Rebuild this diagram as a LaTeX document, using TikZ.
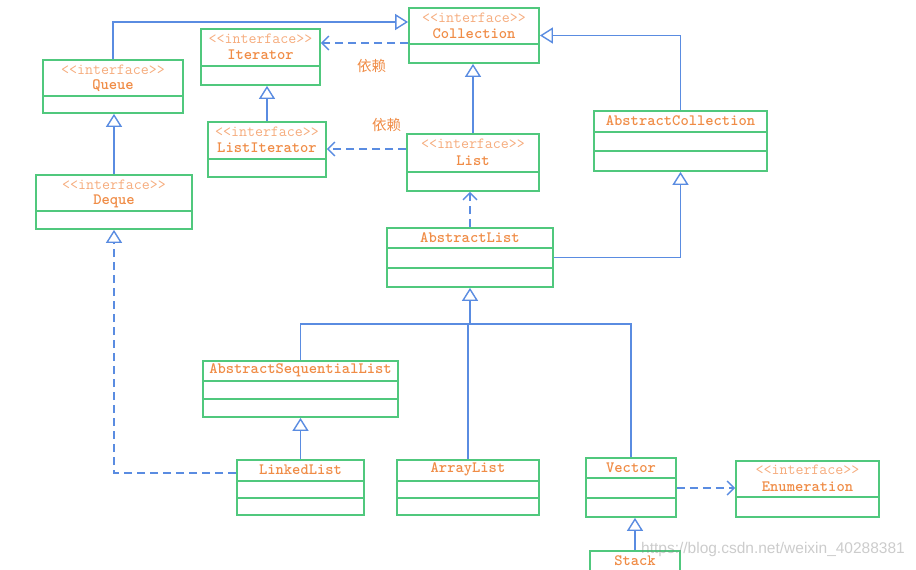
\documentclass[tikz,border=0pt]{standalone}
\usepackage{fontspec}
\newfontfamily\cjk{Noto Sans CJK SC}
\newfontfamily\wmfont{Liberation Sans}
\usetikzlibrary{arrows.meta}
\definecolor{boxgreen}{RGB}{80,200,125}
\definecolor{txtorange}{RGB}{240,140,70}
\definecolor{stereoorange}{RGB}{246,172,125}
\definecolor{lineblue}{RGB}{90,140,225}
\tikzset{
  cls/.style={draw=boxgreen, line width=1.8pt, rectangle, inner sep=0pt, fill=none},
  div/.style={draw=boxgreen, line width=1.8pt},
  stereo/.style={text=stereoorange, font=\fontsize{15.5}{16}\selectfont\ttfamily, inner sep=0pt},
  cname/.style={text=txtorange, font=\fontsize{15.8}{16}\selectfont\ttfamily\bfseries, inner sep=0pt},
  dlabel/.style={text=txtorange, font=\fontsize{14.5}{15}\selectfont\cjk, inner sep=0pt},
  conn/.style={draw=lineblue, line width=1.6pt},
  inh/.style={conn, -{Triangle[open, length=13pt, width=16pt, line width=1.4pt]}},
  dep/.style={conn, dash pattern=on 8pt off 5pt, -{Straight Barb[length=7pt, width=14pt, line width=1.4pt]}},
  real/.style={conn, dash pattern=on 8pt off 5pt, -{Triangle[open, length=13pt, width=16pt, line width=1.4pt]}},
}
\begin{document}
\begin{tikzpicture}[x=1pt, y=-1pt]
\useasboundingbox[fill=white] (0,0) rectangle (916,570);

% boxes
\node[cls, minimum width=130pt, minimum height=55pt] (coll) at (474,35.5) {};
\node[cls, minimum width=119pt, minimum height=56pt] (iter) at (260.5,57) {};
\node[cls, minimum width=140pt, minimum height=53pt] (queue) at (113,86.5) {};
\node[cls, minimum width=118pt, minimum height=55pt] (liter) at (267,149.5) {};
\node[cls, minimum width=132pt, minimum height=57pt] (list) at (473,162.5) {};
\node[cls, minimum width=156pt, minimum height=54pt] (deque) at (114,202) {};
\node[cls, minimum width=173pt, minimum height=60pt] (acoll) at (680.5,141) {};
\node[cls, minimum width=166pt, minimum height=59pt] (alist) at (470,257.5) {};
\node[cls, minimum width=195pt, minimum height=56pt] (asl) at (300.5,389) {};
\node[cls, minimum width=127pt, minimum height=55pt] (llist) at (300.5,487.5) {};
\node[cls, minimum width=142pt, minimum height=55pt] (alst) at (468,487.5) {};
\node[cls, minimum width=90pt, minimum height=59pt] (vec) at (631,487.5) {};
\node[cls, minimum width=143pt, minimum height=56pt] (enum) at (807.5,489) {};
\node[cls, minimum width=90pt, minimum height=49pt] (stack) at (635,575.5) {};

% dividers
\draw[div] (coll.west |- 0,44) -- (coll.east |- 0,44);
\draw[div] (iter.west |- 0,66) -- (iter.east |- 0,66);
\draw[div] (queue.west |- 0,96) -- (queue.east |- 0,96);
\draw[div] (liter.west |- 0,159) -- (liter.east |- 0,159);
\draw[div] (list.west |- 0,172) -- (list.east |- 0,172);
\draw[div] (deque.west |- 0,211) -- (deque.east |- 0,211);
\draw[div] (acoll.west |- 0,132) -- (acoll.east |- 0,132);
\draw[div] (acoll.west |- 0,151) -- (acoll.east |- 0,151);
\draw[div] (alist.west |- 0,248) -- (alist.east |- 0,248);
\draw[div] (alist.west |- 0,268) -- (alist.east |- 0,268);
\draw[div] (asl.west |- 0,381) -- (asl.east |- 0,381);
\draw[div] (asl.west |- 0,399) -- (asl.east |- 0,399);
\draw[div] (llist.west |- 0,481) -- (llist.east |- 0,481);
\draw[div] (llist.west |- 0,498) -- (llist.east |- 0,498);
\draw[div] (alst.west |- 0,481) -- (alst.east |- 0,481);
\draw[div] (alst.west |- 0,498) -- (alst.east |- 0,498);
\draw[div] (vec.west |- 0,478) -- (vec.east |- 0,478);
\draw[div] (vec.west |- 0,498) -- (vec.east |- 0,498);
\draw[div] (enum.west |- 0,497) -- (enum.east |- 0,497);
\draw[div] (stack.west |- 0,571) -- (stack.east |- 0,571);

% texts
\node[stereo] (collS) at (474,17.5) {<<interface>>};
\node[cname] (collN) at (474,34) {Collection};
\node[stereo] (iterS) at (260.5,38.5) {<<interface>>};
\node[cname] (iterN) at (260.5,55) {Iterator};
\node[stereo] (queueS) at (113,69.5) {<<interface>>};
\node[cname] (queueN) at (113,86) {Queue};
\node[stereo] (literS) at (267,131.5) {<<interface>>};
\node[cname] (literN) at (267,148) {ListIterator};
\node[stereo] (listS) at (473,144) {<<interface>>};
\node[cname] (listN) at (473,160.5) {List};
\node[stereo] (dequeS) at (114,184.5) {<<interface>>};
\node[cname] (dequeN) at (114,201) {Deque};
\node[cname] (acollN) at (680.5,121) {AbstractCollection};
\node[cname] (alistN) at (470,238) {AbstractList};
\node[cname] (aslN) at (300.5,370.5) {AbstractSequentialList};
\node[cname] (llistN) at (300.5,469.5) {LinkedList};
\node[cname] (alstN) at (468,469.5) {ArrayList};
\node[cname] (vecN) at (631,467.5) {Vector};
\node[stereo] (enumS) at (807.5,470) {<<interface>>};
\node[cname] (enumN) at (807.5,486.5) {Enumeration};
\node[cname] (stackN) at (635,561) {Stack};

% connectors
\draw[inh] (queue.north) |- (coll.west |- 0,22);
\draw[inh] (list.north) -- (list.north |- coll.south);
\draw[inh] (acoll.north) |- (coll.east);
\draw[inh] (alist.east) -| (acoll.south);
\draw[dep] (alist.north) -- (alist.north |- list.south);
\coordinate (ajoin) at (alist.south |- 0,324);
\draw[inh] (ajoin) -- (alist.south);
\draw[conn] (asl.north) |- (ajoin);
\draw[conn] (alst.north) |- (ajoin);
\draw[conn] (vec.north) |- (ajoin);
\draw[inh] (llist.north) -- (asl.south);
\draw[real] (llist.west |- 0,473) -| (deque.south);
\draw[inh] (liter.north) -- (liter.north |- iter.south);
\draw[inh] (deque.north) -- (deque.north |- queue.south);
\draw[dep] (coll.west |- 0,43) -- (iter.east |- 0,43);
\draw[dep] (list.west |- 0,149) -- (liter.east |- 0,149);
\draw[dep] (vec.east |- 0,488) -- (enum.west |- 0,488);
\draw[inh] (stack.north) -- (stack.north |- vec.south);

% labels
\node[dlabel] (dep1) at (371.5,66) {依赖};
\node[dlabel] (dep2) at (386.5,125) {依赖};

% watermark
\node[text=gray, opacity=0.4, font=\fontsize{15.5}{16}\selectfont\wmfont, inner sep=0pt] (wm) at (773,549) {https://blog.csdn.net/weixin\_40288381};
\end{tikzpicture}
\end{document}
